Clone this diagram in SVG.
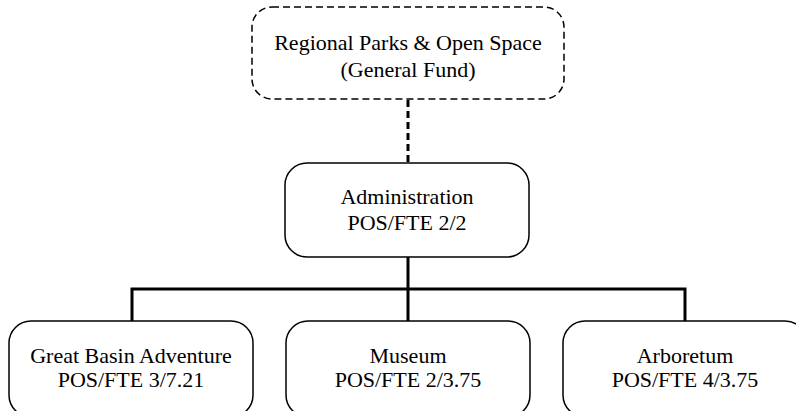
<svg xmlns="http://www.w3.org/2000/svg" width="796" height="411" viewBox="0 0 796 411">
  <style>
    .box { fill: #ffffff; stroke: #000000; stroke-width: 1.5; }
    .dashed { stroke-dasharray: 7 4; }
    .wire { fill: none; stroke: #000000; stroke-width: 3; }
    .wire-dashed { stroke-dasharray: 7 4; }
    text { font-family: "Liberation Serif", "Times New Roman", serif; font-size: 22px; fill: #000000; text-anchor: middle; }
  </style>
  <rect width="796" height="411" fill="#ffffff"/>

  <!-- connectors -->
  <g id="connectors">
    <line class="wire wire-dashed" x1="408" y1="100" x2="408" y2="163"/>
    <line class="wire" x1="408" y1="257" x2="408" y2="321"/>
    <polyline class="wire" points="132,321 132,289 685,289 685,321"/>
  </g>

  <g id="regional-parks">
    <rect class="box dashed" x="252" y="7" width="312" height="92" rx="20" ry="20"/>
    <text x="408" y="50">Regional Parks &amp; Open Space</text>
    <text x="408" y="77">(General Fund)</text>
  </g>

  <g id="administration">
    <rect class="box" x="285" y="163" width="244" height="94" rx="22" ry="22"/>
    <text x="407" y="204">Administration</text>
    <text x="407" y="230">POS/FTE 2/2</text>
  </g>

  <g id="great-basin-adventure">
    <rect class="box" x="9" y="321" width="244" height="96" rx="22" ry="22"/>
    <text x="131" y="363">Great Basin Adventure</text>
    <text x="131" y="387">POS/FTE 3/7.21</text>
  </g>

  <g id="museum">
    <rect class="box" x="286" y="321" width="244" height="96" rx="22" ry="22"/>
    <text x="408" y="363">Museum</text>
    <text x="408" y="387">POS/FTE 2/3.75</text>
  </g>

  <g id="arboretum">
    <rect class="box" x="563" y="321" width="244" height="96" rx="22" ry="22"/>
    <text x="685" y="363">Arboretum</text>
    <text x="685" y="387">POS/FTE 4/3.75</text>
  </g>
</svg>
